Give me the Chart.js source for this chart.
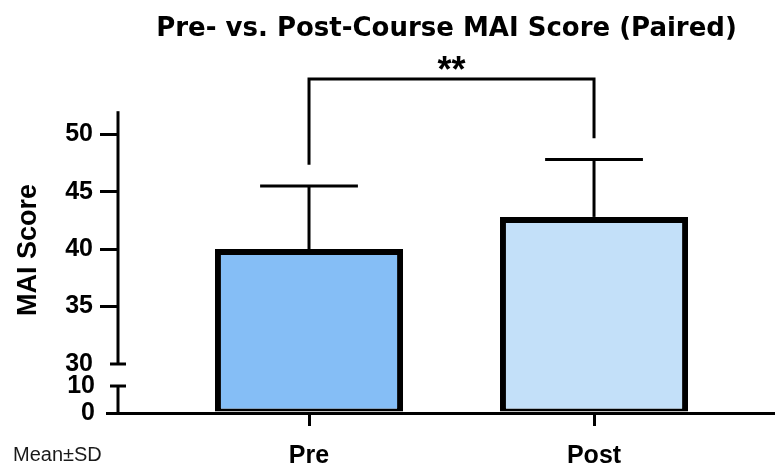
<!DOCTYPE html>
<html>
<head>
<meta charset="utf-8">
<script src="https://cdn.jsdelivr.net/npm/chart.js@4.4.0/dist/chart.umd.min.js"></script>
<style>
  html, body { margin: 0; padding: 0; background: #ffffff; }
  canvas { display: block; }
</style>
</head>
<body>
<canvas id="chart" width="775" height="465"></canvas>
<script>
// ---- data ----
const GROUPS = ['Pre', 'Post'];
const MEANS = [40.0, 42.8];
const SDS = [5.5, 5.0];
const UPPER_TICKS = [30, 35, 40, 45, 50];
const LOWER_TICKS = [0, 10];
const SIGNIFICANCE = '**';

// ---- broken y axis: upper and lower segments ----
const UPPER_AXIS = [30, 52];      // drawn segment of the upper axis
const LOWER_AXIS = [0, 10];       // drawn segment of the lower axis
const UPPER_RANGE = [29.04, 52];  // scale range (includes half of the gap)
const LOWER_RANGE = [0, 14.07];
const BRACKET_TOP = 54.8;
const BRACKET_GAP = 1.85;

const FILLS = ['#85BEF6', '#C3E0F9'];
const SANS = "'Liberation Sans', Arial, Helvetica, sans-serif";

const upperData = MEANS.map((m, i) => ({ x: i + 1, y: m }));
const lowerData = MEANS.map((m, i) => ({ x: i + 1, y: Math.min(m, LOWER_RANGE[1]) }));

function seg(ctx, x1, y1, x2, y2) {
  ctx.beginPath();
  ctx.moveTo(x1, y1);
  ctx.lineTo(x2, y2);
  ctx.stroke();
}

const annotations = {
  id: 'annotations',
  afterDatasetsDraw(chart) {
    const { ctx, chartArea, scales } = chart;
    const { x, y, y2 } = scales;
    const ax = chartArea.left;
    ctx.save();
    ctx.strokeStyle = '#000';
    ctx.fillStyle = '#000';
    ctx.lineWidth = 3;
    ctx.lineCap = 'butt';

    // axis segments with break caps
    seg(ctx, ax, y.getPixelForValue(UPPER_AXIS[0]), ax, y.getPixelForValue(UPPER_AXIS[1]));
    seg(ctx, ax, y2.getPixelForValue(LOWER_AXIS[0]) + 1.5, ax, y2.getPixelForValue(LOWER_AXIS[1]));
    const capY1 = y.getPixelForValue(UPPER_AXIS[0]);
    const capY2 = y2.getPixelForValue(LOWER_AXIS[1]);
    seg(ctx, ax - 8, capY1, ax + 8, capY1);
    seg(ctx, ax - 8, capY2, ax + 8, capY2);

    // error bars (upper side, mean + SD)
    const meta = chart.getDatasetMeta(0);
    MEANS.forEach((m, i) => {
      const bar = meta.data[i];
      const cx = x.getPixelForValue(i + 1);
      const yTop = y.getPixelForValue(m + SDS[i]);
      const yBase = y.getPixelForValue(m);
      seg(ctx, cx, yBase, cx, yTop);
      const half = bar.width * 0.26;
      seg(ctx, cx - half, yTop, cx + half, yTop);
    });

    // significance bracket
    const xa = x.getPixelForValue(1);
    const xb = x.getPixelForValue(2);
    const yt = y.getPixelForValue(BRACKET_TOP);
    ctx.beginPath();
    ctx.moveTo(xa, y.getPixelForValue(MEANS[0] + SDS[0] + BRACKET_GAP));
    ctx.lineTo(xa, yt);
    ctx.lineTo(xb, yt);
    ctx.lineTo(xb, y.getPixelForValue(MEANS[1] + SDS[1] + BRACKET_GAP));
    ctx.stroke();
    ctx.font = 'bold 36px ' + SANS;
    ctx.textAlign = 'center';
    ctx.textBaseline = 'alphabetic';
    ctx.fillText(SIGNIFICANCE, (xa + xb) / 2, yt + 3);

    // axis title
    ctx.save();
    ctx.translate(29, 250);
    ctx.rotate(-Math.PI / 2);
    ctx.font = 'bold 27px ' + SANS;
    ctx.textAlign = 'center';
    ctx.textBaseline = 'middle';
    ctx.fillText('MAI Score', 0, 0);
    ctx.restore();

    // summary note
    ctx.font = '20px ' + SANS;
    ctx.fillStyle = '#1a1a1a';
    ctx.textAlign = 'left';
    ctx.textBaseline = 'alphabetic';
    ctx.fillText('Mean\u00B1SD', 13, 461);
    ctx.restore();
  }
};

const barCommon = {
  backgroundColor: FILLS,
  borderColor: '#000',
  borderSkipped: false,
  grouped: false,
  barPercentage: 0.66,
  categoryPercentage: 1.0
};

new Chart(document.getElementById('chart'), {
  type: 'bar',
  data: {
    datasets: [
      Object.assign({ label: 'upper', data: upperData, yAxisID: 'y',
        borderWidth: { top: 6, left: 6, right: 6, bottom: 0 } }, barCommon),
      Object.assign({ label: 'lower', data: lowerData, yAxisID: 'y2',
        borderWidth: { top: 0, left: 6, right: 6, bottom: 3 } }, barCommon)
    ]
  },
  options: {
    responsive: false,
    animation: false,
    devicePixelRatio: 1,
    layout: { padding: { top: 0, right: 0, bottom: 0, left: 0 } },
    plugins: {
      legend: { display: false },
      tooltip: { enabled: false },
      title: {
        display: true,
        text: 'Pre- vs. Post-Course MAI Score (Paired)',
        color: '#000',
        fullSize: false,
        font: { family: "'DejaVu Sans', sans-serif", weight: 'bold', size: 26 },
        padding: { top: 14, bottom: 66 }
      }
    },
    scales: {
      x: {
        type: 'linear',
        min: 0.3298,
        max: 2.635,
        offset: false,
        afterBuildTicks: (s) => { s.ticks = GROUPS.map((g, i) => ({ value: i + 1 })); },
        afterFit: (s) => { s.height = 52; },
        grid: { offset: false, drawOnChartArea: false, drawTicks: true, tickLength: 13, lineWidth: 3, color: '#000' },
        border: { display: true, color: '#000', width: 3 },
        ticks: {
          callback: (v) => GROUPS[v - 1],
          color: '#000',
          padding: 15,
          maxRotation: 0,
          autoSkip: false,
          font: { family: SANS, weight: 'bold', size: 25 }
        }
      },
      // lower segment listed first so that it is stacked below the upper one
      y2: {
        type: 'linear',
        position: 'left',
        stack: 'mai',
        stackWeight: 38,
        min: LOWER_RANGE[0],
        max: LOWER_RANGE[1],
        beginAtZero: false,
        afterBuildTicks: (s) => { s.ticks = LOWER_TICKS.map(v => ({ value: v })); },
        afterFit: (s) => { s.width = 118; },
        grid: {
          drawOnChartArea: false, tickLength: 12, lineWidth: 3,
          color: (c) => (c.tick && c.tick.value === LOWER_AXIS[1]) ? 'rgba(0,0,0,0)' : '#000'
        },
        border: { display: false },
        ticks: { color: '#000', padding: 11, autoSkip: false, font: { family: SANS, weight: 'bold', size: 25 } }
      },
      y: {
        type: 'linear',
        position: 'left',
        stack: 'mai',
        stackWeight: 264,
        min: UPPER_RANGE[0],
        max: UPPER_RANGE[1],
        beginAtZero: false,
        afterBuildTicks: (s) => { s.ticks = UPPER_TICKS.map(v => ({ value: v })); },
        afterFit: (s) => { s.width = 118; },
        grid: {
          drawOnChartArea: false, tickLength: 18, lineWidth: 3,
          color: (c) => (c.tick && c.tick.value === UPPER_AXIS[0]) ? 'rgba(0,0,0,0)' : '#000'
        },
        border: { display: false },
        ticks: { color: '#000', padding: 7, autoSkip: false, font: { family: SANS, weight: 'bold', size: 25 } }
      }
    }
  },
  plugins: [annotations]
});
</script>
</body>
</html>
